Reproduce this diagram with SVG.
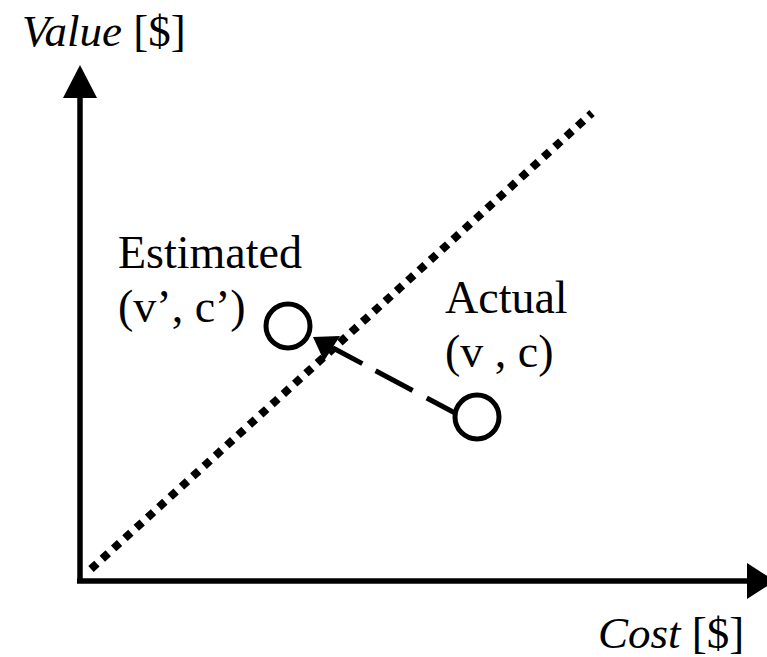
<svg xmlns="http://www.w3.org/2000/svg" width="767" height="657" viewBox="0 0 767 657">
<style>
text{font-family:"Liberation Serif","Times New Roman","DejaVu Serif",serif;fill:#000}
.t{font-size:46px}
.a{font-size:45px}
.i{font-style:italic}
.ax{stroke:#000;stroke-width:5.5;fill:none}
.pt{stroke:#000;stroke-width:5;fill:#fff}
</style>
<rect width="767" height="657" fill="#fff"/>
<g id="axes">
<line class="ax" x1="80" y1="583" x2="80" y2="96"/>
<polygon points="80,65 63,98 97,98" fill="#000"/>
<line class="ax" x1="77" y1="581" x2="750" y2="581"/>
<polygon points="775,581 747,563 747,599" fill="#000"/>
<text class="a" x="22" y="46"><tspan class="i">Value</tspan> [$]</text>
<text class="a" x="598" y="648"><tspan class="i">Cost</tspan> [$]</text>
</g>
<g id="connectors">
<line x1="91" y1="569" x2="592" y2="113" stroke="#000" stroke-width="8" stroke-dasharray="8 7.3"/>
<line x1="455" y1="413" x2="333" y2="348" stroke="#000" stroke-width="5" stroke-dasharray="32 16 42 15 60"/>
<polygon points="313,337 340,336 324,361" fill="#000"/>
</g>
<g id="estimated">
<circle class="pt" cx="288" cy="326" r="22"/>
<text class="t" x="118" y="268">Estimated</text>
<text class="t" x="118" y="322">(v’, c’)</text>
</g>
<g id="actual">
<circle class="pt" cx="477" cy="417" r="22"/>
<text class="t" x="445" y="313">Actual</text>
<text class="t" x="445" y="367">(v , c)</text>
</g>
</svg>
